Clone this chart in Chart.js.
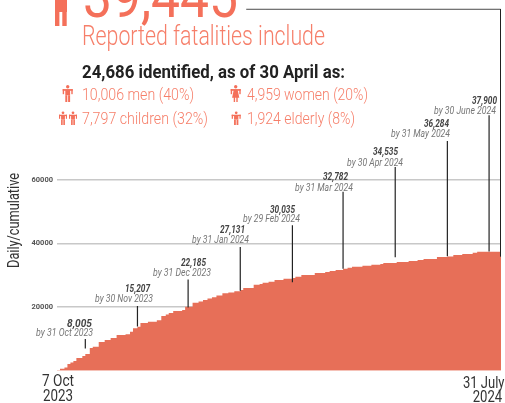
<!DOCTYPE html>
<html>
<head>
<meta charset="utf-8">
<style>
  body { margin: 0; background: #fff; overflow: hidden; }
</style>
<script src="https://cdn.jsdelivr.net/npm/chart.js@4"></script>
</head>
<body>
<canvas id="chart" width="505" height="403"></canvas>
<script>
// cumulative fatalities as (day since 7 Oct, total)
const days = [0,2,5,7,9,11,13,17,19,22,24,28,32,36,40,46,49,51,54,56,61,67,70,73,75,78,84,86,91,95,98,101,104,107,111,115,119,123,125,132,136,138,142,146,152,158,160,164,173,180,183,187,192,195,198,205,211,217,219,228,236,242,246,255,262,266,272,279,282,298];
const totals = [150,630,1000,2100,2580,3050,4000,4620,5250,7140,7550,9030,9650,10280,11230,11450,12270,13330,13840,15000,15410,15900,17200,17700,18200,18780,19090,20130,21390,21800,22240,22700,23080,23700,24340,24650,25000,25380,26010,27050,27300,27680,27990,28530,28930,29150,29560,30100,30730,31040,31360,31670,32080,32390,32710,33020,33340,33560,33870,34190,34500,34810,35130,35760,35980,36390,36700,37110,37430,37650];

// monthly callouts
const calloutValues = ["8,005","15,207","22,185","27,131","30,035","32,782","34,535","36,284","37,900"];
const calloutDates = ["by 31 Oct 2023","by 30 Nov 2023","by 31 Dec 2023","by 31 Jan 2024","by 29 Feb 2024","by 31 Mar 2024","by 30 Apr 2024","by 31 May 2024","by 30 June 2024"];
const stemDays = [19,54,88,123,158,192,227,262,290];
const stemTops = [10000,20400,28700,38900,45800,56300,64100,72300,80400];
const stemBottoms = [7000,13900,19900,25200,27800,32100,35700,36000,37500];

// leader running from the headline number to the last day
const leaderDays = [127,297.7,297.7];
const leaderTotals = [113800,113800,36000];

const yTicks = [20000,40000,60000];
const xTickLabels = [["7 Oct","2023"],["31 July","2024"]];

const colors = { area: "#e76f58", head: "#f4705a", sub: "#f67f6a", ink: "#222222" };

// text placed at a set width, the family is only there in normal width so squeeze it
function fit(ctx, text, x, base, w, font, color) {
  ctx.save();
  ctx.font = font;
  ctx.fillStyle = color;
  ctx.textAlign = "left";
  ctx.textBaseline = "alphabetic";
  ctx.translate(x, base);
  ctx.scale(w / ctx.measureText(text).width, 1);
  ctx.fillText(text, 0, 0);
  ctx.restore();
}

function person(ctx, x, top, w, h, dress, color) {
  ctx.save();
  ctx.fillStyle = color;
  let cx = x + w / 2;
  ctx.beginPath();
  ctx.arc(cx, top + h * 0.1, h * 0.1, 0, Math.PI * 2);
  ctx.fill();
  ctx.fillRect(x, top + h * 0.24, w, h * 0.1);
  ctx.fillRect(x, top + h * 0.24, w * 0.14, h * 0.3);
  ctx.fillRect(x + w * 0.86, top + h * 0.24, w * 0.14, h * 0.3);
  if (dress) {
    ctx.beginPath();
    ctx.moveTo(cx - w * 0.2, top + h * 0.3);
    ctx.lineTo(cx + w * 0.2, top + h * 0.3);
    ctx.lineTo(cx + w * 0.36, top + h * 0.75);
    ctx.lineTo(cx - w * 0.36, top + h * 0.75);
    ctx.fill();
    ctx.fillRect(cx - w * 0.2, top + h * 0.7, w * 0.14, h * 0.3);
    ctx.fillRect(cx + w * 0.06, top + h * 0.7, w * 0.14, h * 0.3);
  } else {
    ctx.fillRect(cx - w * 0.24, top + h * 0.3, w * 0.48, h * 0.3);
    ctx.fillRect(cx - w * 0.24, top + h * 0.6, w * 0.2, h * 0.4);
    ctx.fillRect(cx + w * 0.04, top + h * 0.6, w * 0.2, h * 0.4);
  }
  ctx.restore();
}

const textLayer = {
  id: "textLayer",
  afterDatasetsDraw(chart) {
    const ctx = chart.ctx;

    // big figure, its top runs off the page
    fit(ctx, "39,445", 83, 17, 155, "400 60px Roboto", colors.head);
    ctx.fillStyle = colors.head;
    ctx.fillRect(55, -2, 12, 14);
    ctx.fillRect(55, 0, 4.4, 26);
    ctx.fillRect(62.3, 0, 4.4, 26);

    fit(ctx, "Reported fatalities include", 82, 45, 243, "300 27px Roboto", colors.sub);
    fit(ctx, "24,686 identified, as of 30 April as:", 82, 78, 263, "700 18px Roboto", colors.ink);
    fit(ctx, "10,006 men (40%)", 82, 100, 112, "300 17px Roboto", colors.sub);
    fit(ctx, "4,959 women (20%)", 247, 100, 121, "300 17px Roboto", colors.sub);
    fit(ctx, "7,797 children (32%)", 82, 124, 126, "300 17px Roboto", colors.sub);
    fit(ctx, "1,924 elderly (8%)", 247, 124, 108, "300 17px Roboto", colors.sub);

    person(ctx, 62.7, 85, 10, 17, false, colors.head);
    person(ctx, 230.7, 85, 10, 17, true, colors.head);
    person(ctx, 59, 111.5, 8, 13.5, false, colors.head);
    person(ctx, 69, 111.5, 8, 13.5, false, colors.head);
    person(ctx, 231.7, 111.5, 9, 13.5, false, colors.head);

    // callouts
    const valLeft = [67,125,181,220,270,323,373,424,472];
    const valBase = [326.7,292,265.7,233,212.7,180,155,126.7,104.3];
    const dateLeft = [36,95,153,192,243,295,347,391,434];
    const dateBase = [336,301.7,275.7,243,222,190.7,165.7,136.7,114.3];
    const dateWide = [57,58,58,57,57,58,56,59,62];
    calloutValues.forEach((v, i) => {
      fit(ctx, v, valLeft[i], valBase[i], 25, "italic 700 10px Roboto", "#444444");
      fit(ctx, calloutDates[i], dateLeft[i], dateBase[i], dateWide[i], "italic 400 10px Roboto", "#777777");
    });

    // x axis labels
    const tickLeft = [[42, 43], [463, 472.7]];
    const tickBase = [[386, 400.7], [388, 402]];
    const tickWide = [[32, 30], [41.5, 29.5]];
    xTickLabels.forEach((lines, i) => {
      lines.forEach((line, j) => {
        fit(ctx, line, tickLeft[i][j], tickBase[i][j], tickWide[i][j], "400 16px Roboto", "#333333");
      });
    });

    // y title
    ctx.save();
    ctx.translate(19, 268);
    ctx.rotate(-Math.PI / 2);
    fit(ctx, "Daily/cumulative", 0, 0, 95, "400 17px Roboto", "#333333");
    ctx.restore();
  }
};

// stems are separate two point runs, a null breaks the line between them
const stemPoints = [];
stemDays.forEach((d, i) => {
  stemPoints.push({ x: d, y: stemTops[i] }, { x: d, y: stemBottoms[i] }, { x: d, y: null });
});

new Chart(document.getElementById("chart").getContext("2d"), {
  type: "scatter",
  data: {
    datasets: [
      {
        data: stemPoints,
        showLine: true,
        spanGaps: false,
        borderColor: "#222222",
        borderWidth: 1.2,
        pointRadius: 0,
        order: 0
      },
      {
        data: leaderDays.map((d, i) => ({ x: d, y: leaderTotals[i] })),
        showLine: true,
        borderColor: "#222222",
        borderWidth: 1,
        pointRadius: 0,
        order: 0
      },
      {
        data: days.map((d, i) => ({ x: d, y: totals[i] })),
        showLine: true,
        stepped: "before",
        fill: "origin",
        backgroundColor: colors.area,
        borderWidth: 0,
        pointRadius: 0,
        order: 1
      }
    ]
  },
  options: {
    responsive: false,
    animation: false,
    layout: { padding: { top: 8, right: 4 } },
    plugins: { legend: { display: false }, tooltip: { enabled: false } },
    scales: {
      x: {
        type: "linear",
        min: 0,
        max: 298,
        grid: { display: false },
        border: { display: false },
        ticks: { display: false },
        afterFit(scale) { scale.height = 32.3; }
      },
      y: {
        type: "linear",
        min: 0,
        max: 114000,
        grid: { color: "#c8c8c8", lineWidth: 1.4, drawTicks: false },
        border: { display: false },
        ticks: {
          color: "#555555",
          padding: 4,
          font: { family: "Roboto", size: 7.5, weight: "700" },
          callback: v => String(v)
        },
        afterBuildTicks(scale) { scale.ticks = yTicks.map(v => ({ value: v })); },
        afterFit(scale) { scale.width = 57; }
      }
    }
  },
  plugins: [textLayer]
});
</script>
</body>
</html>
